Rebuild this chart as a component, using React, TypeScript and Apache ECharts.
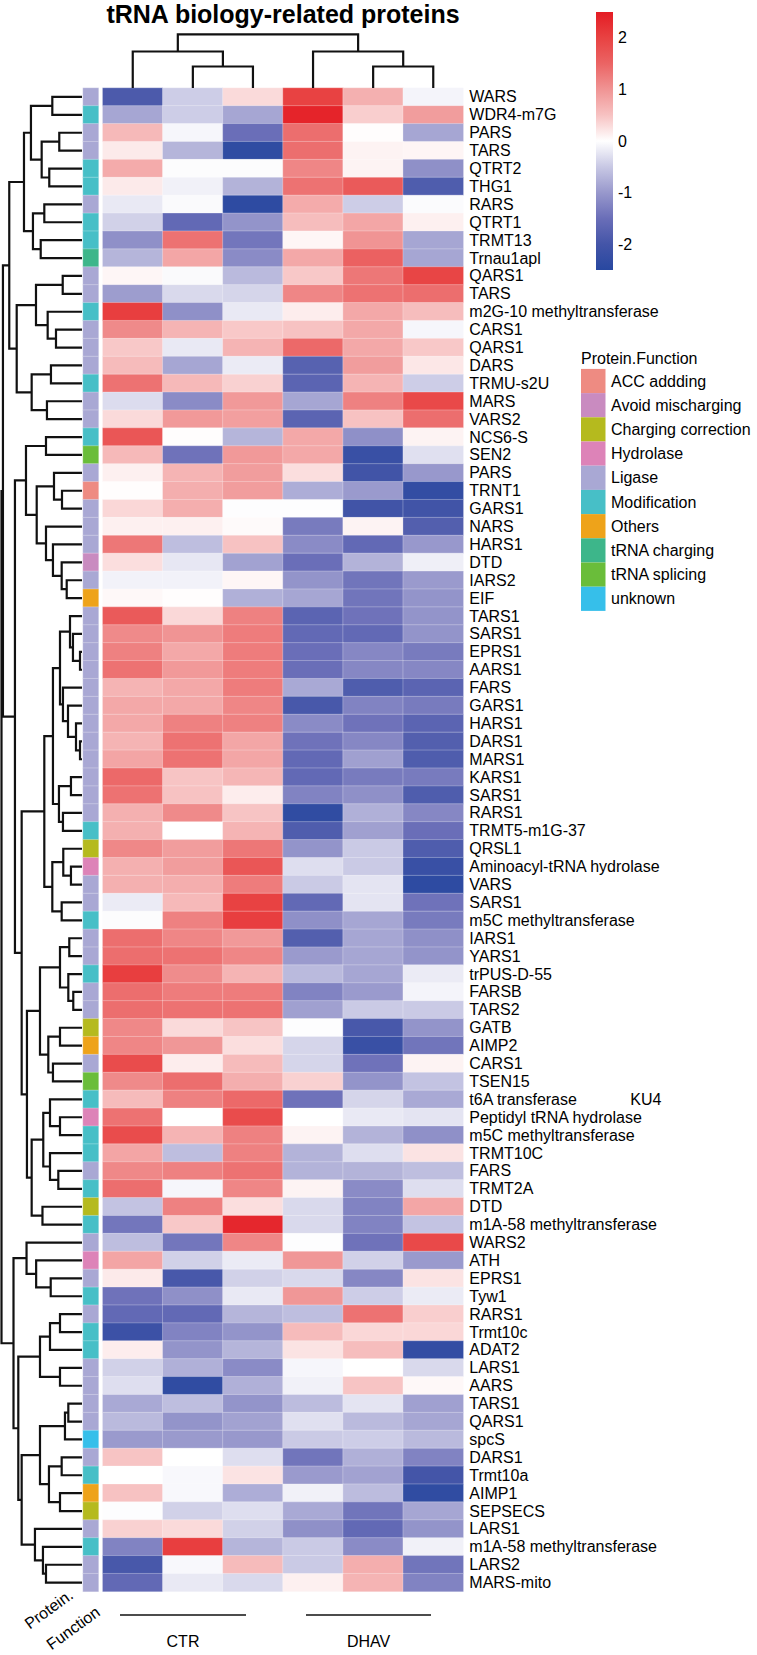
import React, { useEffect, useRef } from "react";
import * as echarts from "echarts";

// ---- data ----
const samples = ["CTR-1", "CTR-2", "CTR-3", "DHAV-1", "DHAV-2", "DHAV-3"];

const proteins = [
  "WARS", "WDR4-m7G", "PARS", "TARS", "QTRT2", "THG1", "RARS", "QTRT1", "TRMT13", "Trnau1apl",
  "QARS1", "TARS", "m2G-10 methyltransferase", "CARS1", "QARS1", "DARS", "TRMU-s2U", "MARS", "VARS2", "NCS6-S",
  "SEN2", "PARS", "TRNT1", "GARS1", "NARS", "HARS1", "DTD", "IARS2", "EIF", "TARS1",
  "SARS1", "EPRS1", "AARS1", "FARS", "GARS1", "HARS1", "DARS1", "MARS1", "KARS1", "SARS1",
  "RARS1", "TRMT5-m1G-37", "QRSL1", "Aminoacyl-tRNA hydrolase", "VARS", "SARS1", "m5C methyltransferase", "IARS1", "YARS1", "trPUS-D-55",
  "FARSB", "TARS2", "GATB", "AIMP2", "CARS1", "TSEN15",
  "t6A transferase\u00A0\u00A0\u00A0\u00A0\u00A0\u00A0\u00A0\u00A0\u00A0\u00A0\u00A0\u00A0KU4",
  "Peptidyl tRNA hydrolase", "m5C methyltransferase", "TRMT10C",
  "FARS", "TRMT2A", "DTD", "m1A-58 methyltransferase", "WARS2", "ATH", "EPRS1", "Tyw1", "RARS1", "Trmt10c",
  "ADAT2", "LARS1", "AARS", "TARS1", "QARS1", "spcS", "DARS1", "Trmt10a", "AIMP1", "SEPSECS",
  "LARS1", "m1A-58 methyltransferase", "LARS2", "MARS-mito",
];

// scaled expression (z-score) per protein, columns follow `samples`
const expression: number[][] = [
  [-1.9, -0.45, 0.3, 2.0, 0.7, -0.1],
  [-0.85, -0.45, -0.85, 2.4, 0.4, 0.9],
  [0.6, -0.08, -1.5, 1.4, 0.02, -0.85],
  [0.17, -0.7, -2.35, 1.4, 0.1, 0.08],
  [0.75, -0.03, -0.03, 1.15, 0.1, -1.1],
  [0.17, -0.13, -0.72, 1.35, 1.65, -1.85],
  [-0.2, -0.05, -2.4, 0.75, -0.45, -0.04],
  [-0.42, -1.6, -1.05, 0.55, 0.8, 0.12],
  [-1.1, 1.35, -1.4, 0.07, 1.0, -0.85],
  [-0.7, 0.8, -1.15, 0.78, 1.55, -0.85],
  [0.07, -0.05, -0.65, 0.45, 1.3, 1.95],
  [-0.95, -0.35, -0.38, 1.15, 1.35, 1.4],
  [2.05, -1.1, -0.2, 0.15, 0.78, 0.55],
  [1.1, 0.65, 0.45, 0.5, 0.78, -0.08],
  [0.45, -0.2, 0.65, 1.45, 0.78, 0.45],
  [0.58, -0.85, -0.18, -1.75, 0.9, 0.2],
  [1.35, 0.6, 0.38, -1.7, 0.65, -0.45],
  [-0.32, -1.15, 0.95, -0.85, 1.2, 1.9],
  [0.3, 0.95, 0.88, -1.7, 0.5, 1.4],
  [1.7, 0.02, -0.7, 0.78, -1.1, 0.1],
  [0.6, -1.45, 0.95, 0.78, -2.2, -0.28],
  [0.12, 0.65, 0.9, 0.27, -2.05, -1.0],
  [0.02, 0.72, 0.9, -0.78, -0.98, -2.3],
  [0.33, 0.72, -0.02, -0.02, -2.05, -2.05],
  [0.12, 0.12, 0.04, -1.35, 0.1, -1.8],
  [1.3, -0.6, 0.5, -1.15, -1.6, -1.0],
  [0.27, -0.22, -0.9, -1.5, -0.72, -0.15],
  [-0.12, -0.12, 0.07, -1.05, -1.42, -0.98],
  [0.06, 0.02, -0.75, -0.85, -1.42, -1.05],
  [1.65, 0.32, 1.2, -1.7, -1.45, -1.05],
  [1.1, 1.0, 1.25, -1.6, -1.6, -1.05],
  [1.2, 0.78, 1.25, -1.5, -1.2, -1.35],
  [1.35, 0.95, 1.25, -1.5, -1.2, -1.2],
  [0.65, 0.78, 1.25, -0.82, -1.85, -1.7],
  [0.78, 0.78, 1.15, -1.95, -1.25, -1.35],
  [0.78, 1.2, 1.2, -1.15, -1.45, -1.7],
  [0.65, 1.35, 0.8, -1.45, -1.2, -1.8],
  [0.82, 1.35, 0.8, -1.6, -0.92, -1.85],
  [1.45, 0.48, 0.63, -1.6, -1.35, -1.35],
  [1.35, 0.5, 0.15, -1.25, -1.1, -1.85],
  [0.7, 1.1, 0.48, -2.35, -0.75, -1.2],
  [0.7, 0.0, 0.65, -1.85, -0.92, -1.5],
  [1.12, 0.9, 1.3, -1.05, -0.48, -1.85],
  [0.7, 0.9, 1.7, -0.3, -0.48, -2.2],
  [0.7, 0.72, 1.25, -0.48, -0.25, -2.4],
  [-0.18, 0.6, 2.0, -1.6, -0.25, -1.45],
  [-0.03, 1.2, 2.05, -1.1, -0.85, -1.35],
  [1.4, 1.15, 0.95, -1.8, -0.85, -1.1],
  [1.4, 1.35, 1.15, -0.98, -0.85, -1.05],
  [2.05, 1.08, 0.65, -0.65, -0.85, -0.18],
  [1.4, 1.25, 1.25, -1.25, -0.98, -0.1],
  [1.4, 1.35, 1.35, -0.92, -0.48, -0.48],
  [1.12, 0.3, 0.48, -0.02, -1.95, -1.05],
  [1.15, 0.97, 0.27, -0.38, -2.2, -1.42],
  [1.85, 0.15, 0.58, -0.38, -1.45, 0.1],
  [1.1, 1.4, 0.72, 0.38, -1.05, -0.55],
  [0.58, 1.2, 1.45, -1.45, -0.38, -0.82],
  [1.35, 0.0, 1.85, 0.0, -0.2, -0.25],
  [1.85, 0.65, 1.2, 0.1, -0.72, -1.1],
  [0.82, -0.6, 1.2, -0.72, -0.3, 0.23],
  [1.12, 1.2, 1.35, -0.72, -0.72, -0.6],
  [1.4, -0.08, 1.15, 0.1, -1.15, -0.3],
  [-0.55, 1.2, 0.27, -0.35, -1.25, 0.8],
  [-1.4, 0.45, 2.35, -0.35, -1.25, -0.55],
  [-0.6, -1.4, 1.15, -0.02, -1.45, 1.9],
  [0.82, -0.42, -0.18, 0.97, -0.42, -0.98],
  [0.17, -1.95, -0.42, -0.35, -1.2, 0.23],
  [-1.45, -1.1, -0.2, 0.97, -0.45, -0.18],
  [-1.6, -1.6, -0.7, -0.6, 1.35, 0.4],
  [-2.15, -1.25, -1.05, 0.58, 0.33, 0.33],
  [0.15, -1.05, -0.7, 0.23, 0.55, -2.3],
  [-0.42, -0.75, -1.15, -0.08, 0.0, -0.35],
  [-0.3, -2.35, -0.75, -0.13, 0.48, 0.06],
  [-0.82, -0.6, -1.05, -0.62, -0.25, -0.92],
  [-0.65, -1.05, -0.9, -0.28, -0.65, -0.85],
  [-0.98, -0.98, -1.0, -0.48, -0.45, -0.65],
  [0.48, 0.0, -0.3, -1.42, -0.75, -1.25],
  [0.0, -0.06, 0.23, -0.98, -0.9, -2.0],
  [0.5, -0.06, -0.78, -0.13, -0.62, -2.35],
  [-0.02, -0.42, -0.3, -0.82, -1.42, -0.85],
  [0.38, 0.3, -0.42, -1.1, -1.6, -1.05],
  [-1.25, 2.05, -0.7, -0.48, -1.15, -0.13],
  [-1.95, -0.06, 0.58, -0.48, 0.72, -1.42],
  [-1.6, -0.2, -0.35, 0.12, 0.65, -1.25],
];

const functionGroups = [
  "ACC addding", "Avoid mischarging", "Charging correction", "Hydrolase", "Ligase",
  "Modification", "Others", "tRNA charging", "tRNA splicing", "unknown",
];
const functionColors = [
  "#EE8B82", "#C98BC0", "#B5BA1E", "#DD83B8", "#A9A8D4",
  "#47BFC7", "#EEA31A", "#3DB68A", "#6ABD3A", "#36BFEA",
];

const proteinFunction = [
  "Ligase", "Modification", "Ligase", "Ligase", "Modification", "Modification", "Ligase", "Modification", "Modification", "tRNA charging",
  "Ligase", "Ligase", "Modification", "Ligase", "Ligase", "Ligase", "Modification", "Ligase", "Ligase", "Modification",
  "tRNA splicing", "Ligase", "ACC addding", "Ligase", "Ligase", "Ligase", "Avoid mischarging", "Ligase", "Others", "Ligase",
  "Ligase", "Ligase", "Ligase", "Ligase", "Ligase", "Ligase", "Ligase", "Ligase", "Ligase", "Ligase",
  "Ligase", "Modification", "Charging correction", "Hydrolase", "Ligase", "Ligase", "Modification", "Ligase", "Ligase", "Modification",
  "Ligase", "Ligase", "Charging correction", "Others", "Ligase", "tRNA splicing", "Modification", "Hydrolase", "Modification", "Modification",
  "Ligase", "Modification", "Charging correction", "Modification", "Ligase", "Hydrolase", "Ligase", "Modification", "Ligase", "Modification",
  "Modification", "Ligase", "Ligase", "Ligase", "Ligase", "unknown", "Ligase", "Modification", "Others", "Charging correction",
  "Ligase", "Modification", "Ligase", "Ligase",
];

const zRange = [-2.5, 2.5];
const zColors = [
  "#2848A0", "#4455A8", "#6A6EB8", "#9898CC", "#C8C8E4", "#FFFFFF",
  "#F7C2C2", "#F09494", "#EB6464", "#E84242", "#E41C24",
];
const colorbarTicks = [2, 1, 0, -1, -2];

const groupLabels = ["CTR", "DHAV"];

// hierarchical clustering of proteins: [left, right, height]; leaves are 1-based row numbers
type Tree = number | [Tree, Tree, number];
const rowTree: Tree = [
  [
    [
      [
        [[1, 2, 3.71], [[3, 4, 2.84], [5, 6, 4.09], 5.04], 6.38],
        [[7, 8, 4.71], [9, 10, 5.16], 6.13],
        7.25,
      ],
      [
        [[11, 12, 2.41], [13, [14, 15, 3.25], 4.29], 5.75],
        [[16, 17, 3.88], [18, 19, 4.38], 6.29],
        8.16,
      ],
      9.09,
    ],
    [
      [
        [20, 21, 4.5],
        [[22, [23, 24, 2.5], 3.5], [25, [26, [27, [28, 29, 1.91], 2.54], 3.63], 4.5], 5.66],
        7.0,
      ],
      [
        [
          [
            [
              [30, [31, [32, 33, 0.25], 1.13], 1.5],
              [34, [35, [36, [37, 38, 0.25], 0.75], 1.75], 2.38],
              2.75,
            ],
            [[39, 40, 1.38], [41, 42, 2.38], 2.88],
            3.63,
          ],
          [[43, [44, 45, 1.38], 2.34], [46, 47, 2.54], 3.71],
          4.71,
        ],
        [
          [[[48, 49, 1.59], [50, [51, 52, 1.09], 1.71], 2.75], [[53, 54, 2.75], [55, 56, 3.63], 4.21], 5.25],
          [[[57, [58, 59, 2.75], 4.0], [60, [61, 62, 2.96], 4.0], 4.84], [63, 64, 4.94], 6.29],
          6.88,
        ],
        7.54,
      ],
      8.38,
    ],
    9.88,
  ],
  [
    [65, [66, [67, 68, 3.91], 5.73], 6.93],
    [
      [[[69, 70, 2.75], 71, 4.0], [72, 73, 2.75], 5.25],
      [[[[74, 75, 1.71], 76, 2.13], [[77, 78, 2.54], [79, 80, 2.75], 4.13], 5.25], [81, [82, [83, 84, 4.5], 4.88], 5.88], 7.54],
      7.96,
    ],
    8.56,
  ],
  10.06,
];
const rowTreeHeight = 10.06;

// clustering of samples
const colTree: Tree = [[1, [2, 3, 4.0], 6.8], [4, [5, 6, 4.0], 6.8], 10.0];
const colTreeHeight = 10.0;

// ---- helpers ----
function treeSegments(node: Tree, out: number[][]): { pos: number; h: number } {
  if (typeof node === "number") return { pos: node - 0.5, h: 0 };
  const [a, b, h] = node;
  const l = treeSegments(a, out);
  const r = treeSegments(b, out);
  out.push([l.h, l.pos, h, r.pos, r.h]);
  return { pos: (l.pos + r.pos) / 2, h };
}

const FONT = "'Liberation Sans', Arial, Helvetica, sans-serif";

// slanted annotation caption, anchored at the right end of the line
function slantedText(text: string, x: number, y: number) {
  return {
    type: "group",
    x,
    y,
    rotation: (36 * Math.PI) / 180,
    children: [
      {
        type: "text",
        x: 0,
        y: 0,
        style: { text, font: `16px ${FONT}`, fill: "#000", align: "right", verticalAlign: "middle" },
      },
    ],
  };
}

export default function App() {
  const ref = useRef<HTMLDivElement>(null);

  useEffect(() => {
    if (!ref.current) return;
    const chart = echarts.init(ref.current, null, { renderer: "svg", width: 757, height: 1655 });

    const nRows = proteins.length;
    const heat = { left: 102.7, top: 88, width: 360.6, height: 1503.6 };

    const heatData: number[][] = [];
    expression.forEach((row, r) => row.forEach((v, c) => heatData.push([c, r, v])));
    const annotData = proteinFunction.map((f, r) => [0, r, functionGroups.indexOf(f)]);

    const rowSegs: number[][] = [];
    treeSegments(rowTree, rowSegs);
    const colSegsRaw: number[][] = [];
    treeSegments(colTree, colSegsRaw);
    // reorder to [x_left, h_left, h, x_right, h_right]
    const colSegs = colSegsRaw.map(([hl, pl, h, pr, hr]) => [pl, hl, h, pr, hr]);

    const lineStyle = { stroke: "#111", lineWidth: 2.2, fill: "none", lineJoin: "miter" as const };

    // colour bar
    const bar = { x: 596, y: 12, w: 17, h: 258 };
    const gradStops = zColors
      .slice()
      .reverse()
      .map((c, i, arr) => ({ offset: i / (arr.length - 1), color: c }));
    const valueToBarY = (v: number) => bar.y + ((zRange[1] - v) / (zRange[1] - zRange[0])) * bar.h;

    const legend = { x: 581, titleY: 358, firstY: 381, step: 24.2, sw: 24.5 };

    const graphics: any[] = [
      {
        type: "text",
        x: heat.left + heat.width / 2,
        y: 14,
        style: {
          text: "tRNA biology-related proteins",
          font: `bold 25px ${FONT}`,
          fill: "#000",
          textAlign: "center",
          textVerticalAlign: "middle",
        },
      },
      {
        type: "rect",
        shape: { x: bar.x, y: bar.y, width: bar.w, height: bar.h },
        style: {
          fill: { type: "linear", x: 0, y: 0, x2: 0, y2: 1, colorStops: gradStops },
        },
      },
      ...colorbarTicks.map((t) => ({
        type: "text",
        x: bar.x + bar.w + 5,
        y: valueToBarY(t),
        style: {
          text: String(t),
          font: `16px ${FONT}`,
          fill: "#000",
          textAlign: "left",
          textVerticalAlign: "middle",
        },
      })),
      {
        type: "text",
        x: legend.x,
        y: legend.titleY,
        style: {
          text: "Protein.Function",
          font: `16px ${FONT}`,
          fill: "#000",
          textAlign: "left",
          textVerticalAlign: "middle",
        },
      },
      ...functionGroups.map((g, i) => ({
        type: "rect",
        shape: {
          x: legend.x,
          y: legend.firstY + i * legend.step - legend.step / 2,
          width: legend.sw,
          height: legend.step,
        },
        style: { fill: functionColors[i] },
      })),
      ...functionGroups.map((g, i) => ({
        type: "text",
        x: legend.x + legend.sw + 5.5,
        y: legend.firstY + i * legend.step,
        style: {
          text: g,
          font: `16px ${FONT}`,
          fill: "#000",
          textAlign: "left",
          textVerticalAlign: "middle",
        },
      })),
      // sample group brackets under the heatmap
      ...groupLabels.map((g, i) => {
        const x0 = i === 0 ? 120 : 306;
        const x1 = i === 0 ? 246 : 431;
        return {
          type: "group",
          children: [
            { type: "line", shape: { x1: x0, y1: 1615, x2: x1, y2: 1615 }, style: { stroke: "#111", lineWidth: 1.3 } },
            {
              type: "text",
              x: (x0 + x1) / 2,
              y: 1641,
              style: { text: g, font: `16px ${FONT}`, fill: "#000", textAlign: "center", textVerticalAlign: "middle" },
            },
          ],
        };
      }),
      slantedText("Protein.", 71, 1593),
      slantedText("Function", 98, 1610),
    ];

    const option: any = {
      animation: false,
      backgroundColor: "#fff",
      textStyle: { fontFamily: FONT },
      grid: [
        { left: heat.left, top: heat.top, width: heat.width, height: heat.height },
        { left: 83, top: heat.top, width: 15.5, height: heat.height },
        { left: 1.5, top: heat.top, width: 80.5, height: heat.height },
        { left: heat.left, top: 34.3, width: heat.width, height: heat.top - 34.3 },
      ],
      xAxis: [
        { type: "category", gridIndex: 0, data: samples, show: false },
        { type: "category", gridIndex: 1, data: ["Protein.Function"], show: false },
        { type: "value", gridIndex: 2, min: 0, max: rowTreeHeight, inverse: true, show: false },
        { type: "value", gridIndex: 3, min: 0, max: samples.length, show: false },
      ],
      yAxis: [
        {
          type: "category",
          gridIndex: 0,
          data: proteins,
          inverse: true,
          position: "right",
          axisLine: { show: false },
          axisTick: { show: false },
          splitLine: { show: false },
          axisLabel: { interval: 0, fontSize: 16, color: "#000", margin: 6, fontFamily: FONT },
        },
        { type: "category", gridIndex: 1, data: proteins, inverse: true, show: false },
        { type: "value", gridIndex: 2, min: 0, max: nRows, inverse: true, show: false },
        { type: "value", gridIndex: 3, min: 0, max: colTreeHeight, show: false },
      ],
      visualMap: [
        {
          type: "continuous",
          seriesIndex: 0,
          min: zRange[0],
          max: zRange[1],
          inRange: { color: zColors },
          show: false,
        },
        {
          type: "piecewise",
          seriesIndex: 1,
          dimension: 2,
          pieces: functionGroups.map((g, i) => ({ value: i, color: functionColors[i], label: g })),
          show: false,
        },
      ],
      series: [
        {
          type: "heatmap",
          xAxisIndex: 0,
          yAxisIndex: 0,
          data: heatData,
          silent: true,
          itemStyle: { borderColor: "rgba(255,255,255,0.55)", borderWidth: 0.5 },
          emphasis: { disabled: true },
        },
        {
          type: "heatmap",
          xAxisIndex: 1,
          yAxisIndex: 1,
          data: annotData,
          silent: true,
          itemStyle: { borderColor: "rgba(255,255,255,0.55)", borderWidth: 0.5 },
          emphasis: { disabled: true },
        },
        {
          type: "custom",
          xAxisIndex: 2,
          yAxisIndex: 2,
          silent: true,
          data: rowSegs,
          renderItem: (_p: any, api: any) => {
            const a = api.coord([api.value(0), api.value(1)]);
            const b = api.coord([api.value(2), api.value(1)]);
            const c = api.coord([api.value(2), api.value(3)]);
            const d = api.coord([api.value(4), api.value(3)]);
            return { type: "polyline", shape: { points: [a, b, c, d] }, style: lineStyle };
          },
        },
        {
          type: "custom",
          xAxisIndex: 3,
          yAxisIndex: 3,
          silent: true,
          data: colSegs,
          renderItem: (_p: any, api: any) => {
            const a = api.coord([api.value(0), api.value(1)]);
            const b = api.coord([api.value(0), api.value(2)]);
            const c = api.coord([api.value(3), api.value(2)]);
            const d = api.coord([api.value(3), api.value(4)]);
            return { type: "polyline", shape: { points: [a, b, c, d] }, style: lineStyle };
          },
        },
      ],
      graphic: graphics,
    };

    chart.setOption(option);
    return () => chart.dispose();
  }, []);

  return (
    <div
      ref={ref}
      style={{ position: "absolute", left: 0, top: 0, width: 757, height: 1655, background: "#fff" }}
    />
  );
}
